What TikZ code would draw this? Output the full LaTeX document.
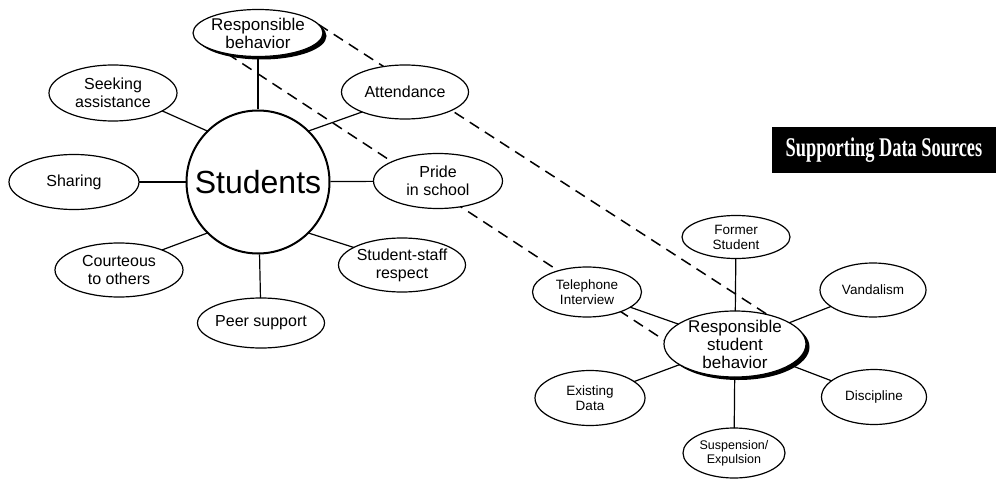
\documentclass[tikz,border=0pt]{standalone}
\usepackage{fontspec}
\setmainfont{Liberation Sans}
\newfontfamily\titlefont{Liberation Serif}
\usetikzlibrary{shapes.geometric,shadows,backgrounds}
\begin{document}
\begin{tikzpicture}[x=1pt,y=-1pt,
  bub/.style 2 args={ellipse,draw=black,line width=1.2pt,fill=white,inner sep=0pt,outer sep=0pt,minimum width=#1pt,minimum height=#2pt},
  lt/.style={align=center,inner sep=0pt,font=\fontsize{16}{18}\selectfont},
  lts/.style={align=center,inner sep=0pt,font=\fontsize{13.5}{15}\selectfont},
  ltb/.style={align=center,inner sep=0pt,font=\fontsize{17}{18}\selectfont},
  shad/.style={drop shadow={shadow xshift=3.5pt,shadow yshift=-3pt,fill=black,opacity=1}},
  link/.style={line width=1.2pt},
  thicklink/.style={line width=2.2pt},
  dashlink/.style={line width=1.5pt,dash pattern=on 11pt off 7pt}
]
\useasboundingbox (0,0) rectangle (1001,484);

% left cluster
\node[bub={130}{47},shad,label={[ltb]center:Responsible\\behavior}] (rb) at (258,33) {};
\node[circle,draw=black,line width=2pt,fill=white,minimum size=143pt,inner sep=0pt,font=\fontsize{32}{34}\selectfont] (stu) at (258,182) {Students};
\node[bub={128}{56},label={[lt]center:Seeking\\assistance}] (seek) at (113,93) {};
\node[bub={130}{55},label={[lt]center:Sharing}] (share) at (74,182) {};
\node[bub={128}{54},label={[lt]center:Courteous\\to others}] (court) at (119,270) {};
\node[bub={127}{50},label={[lt]center:Peer support}] (peer) at (261,323) {};
\node[bub={127}{54},label={[lt]center:Student-staff\\respect}] (ss) at (402,265) {};
\node[bub={129}{55},label={[lt]center:Pride\\in school}] (pride) at (438,181) {};
\node[bub={127}{54},label={[lt]center:Attendance}] (att) at (405,92) {};

% right cluster
\node[bub={142}{66},shad,label={[ltb]center:Responsible\\student\\behavior}] (rsb) at (735,344) {};
\node[bub={108}{43},label={[lts]center:Former\\Student}] (former) at (736,237) {};
\node[bub={109}{50},label={[lts]center:Telephone\\Interview}] (tel) at (587,292) {};
\node[bub={106}{54},label={[lts]center:Vandalism}] (vand) at (873,290) {};
\node[bub={105}{55},label={[lts]center:Discipline}] (disc) at (874,397) {};
\node[bub={110}{55},label={[lts]center:Existing\\Data}] (exist) at (590,398) {};
\node[bub={102}{50},label={[lts,font=\fontsize{12.5}{14}\selectfont]center:Suspension/\\Expulsion}] (susp) at (734,453) {};

% title
\node[fill=black,minimum width=224pt,minimum height=46pt,inner sep=0pt,text=white,font=\titlefont\bfseries\fontsize{27}{27}\selectfont] (title) at (884,150) {\scalebox{0.68}[1]{Supporting Data Sources}};

% connectors
\draw[thicklink] (rb) -- (stu);
\draw[link] (stu.135) -- (seek.-20);
\draw[link] (stu) -- (share);
\draw[link] (stu.225) -- (court.25);
\draw[link] (stu) -- (peer);
\draw[link] (stu.-45) -- (ss.160);
\draw[link] (stu) -- (pride);
\draw[link] (stu.45) -- (att.205);

\draw[link] (tel) -- (rsb);
\draw[link] (former) -- (rsb);
\draw[link] (rsb) -- (vand);
\draw[link] (rsb) -- (disc);
\draw[link] (rsb) -- (exist);
\draw[link] (rsb) -- (susp);

\begin{scope}[on background layer]
\draw[dashlink] (rb.8) -- (rsb.42);
\draw[dashlink] (rb.214) -- (rsb.177);
\end{scope}
\end{tikzpicture}
\end{document}
